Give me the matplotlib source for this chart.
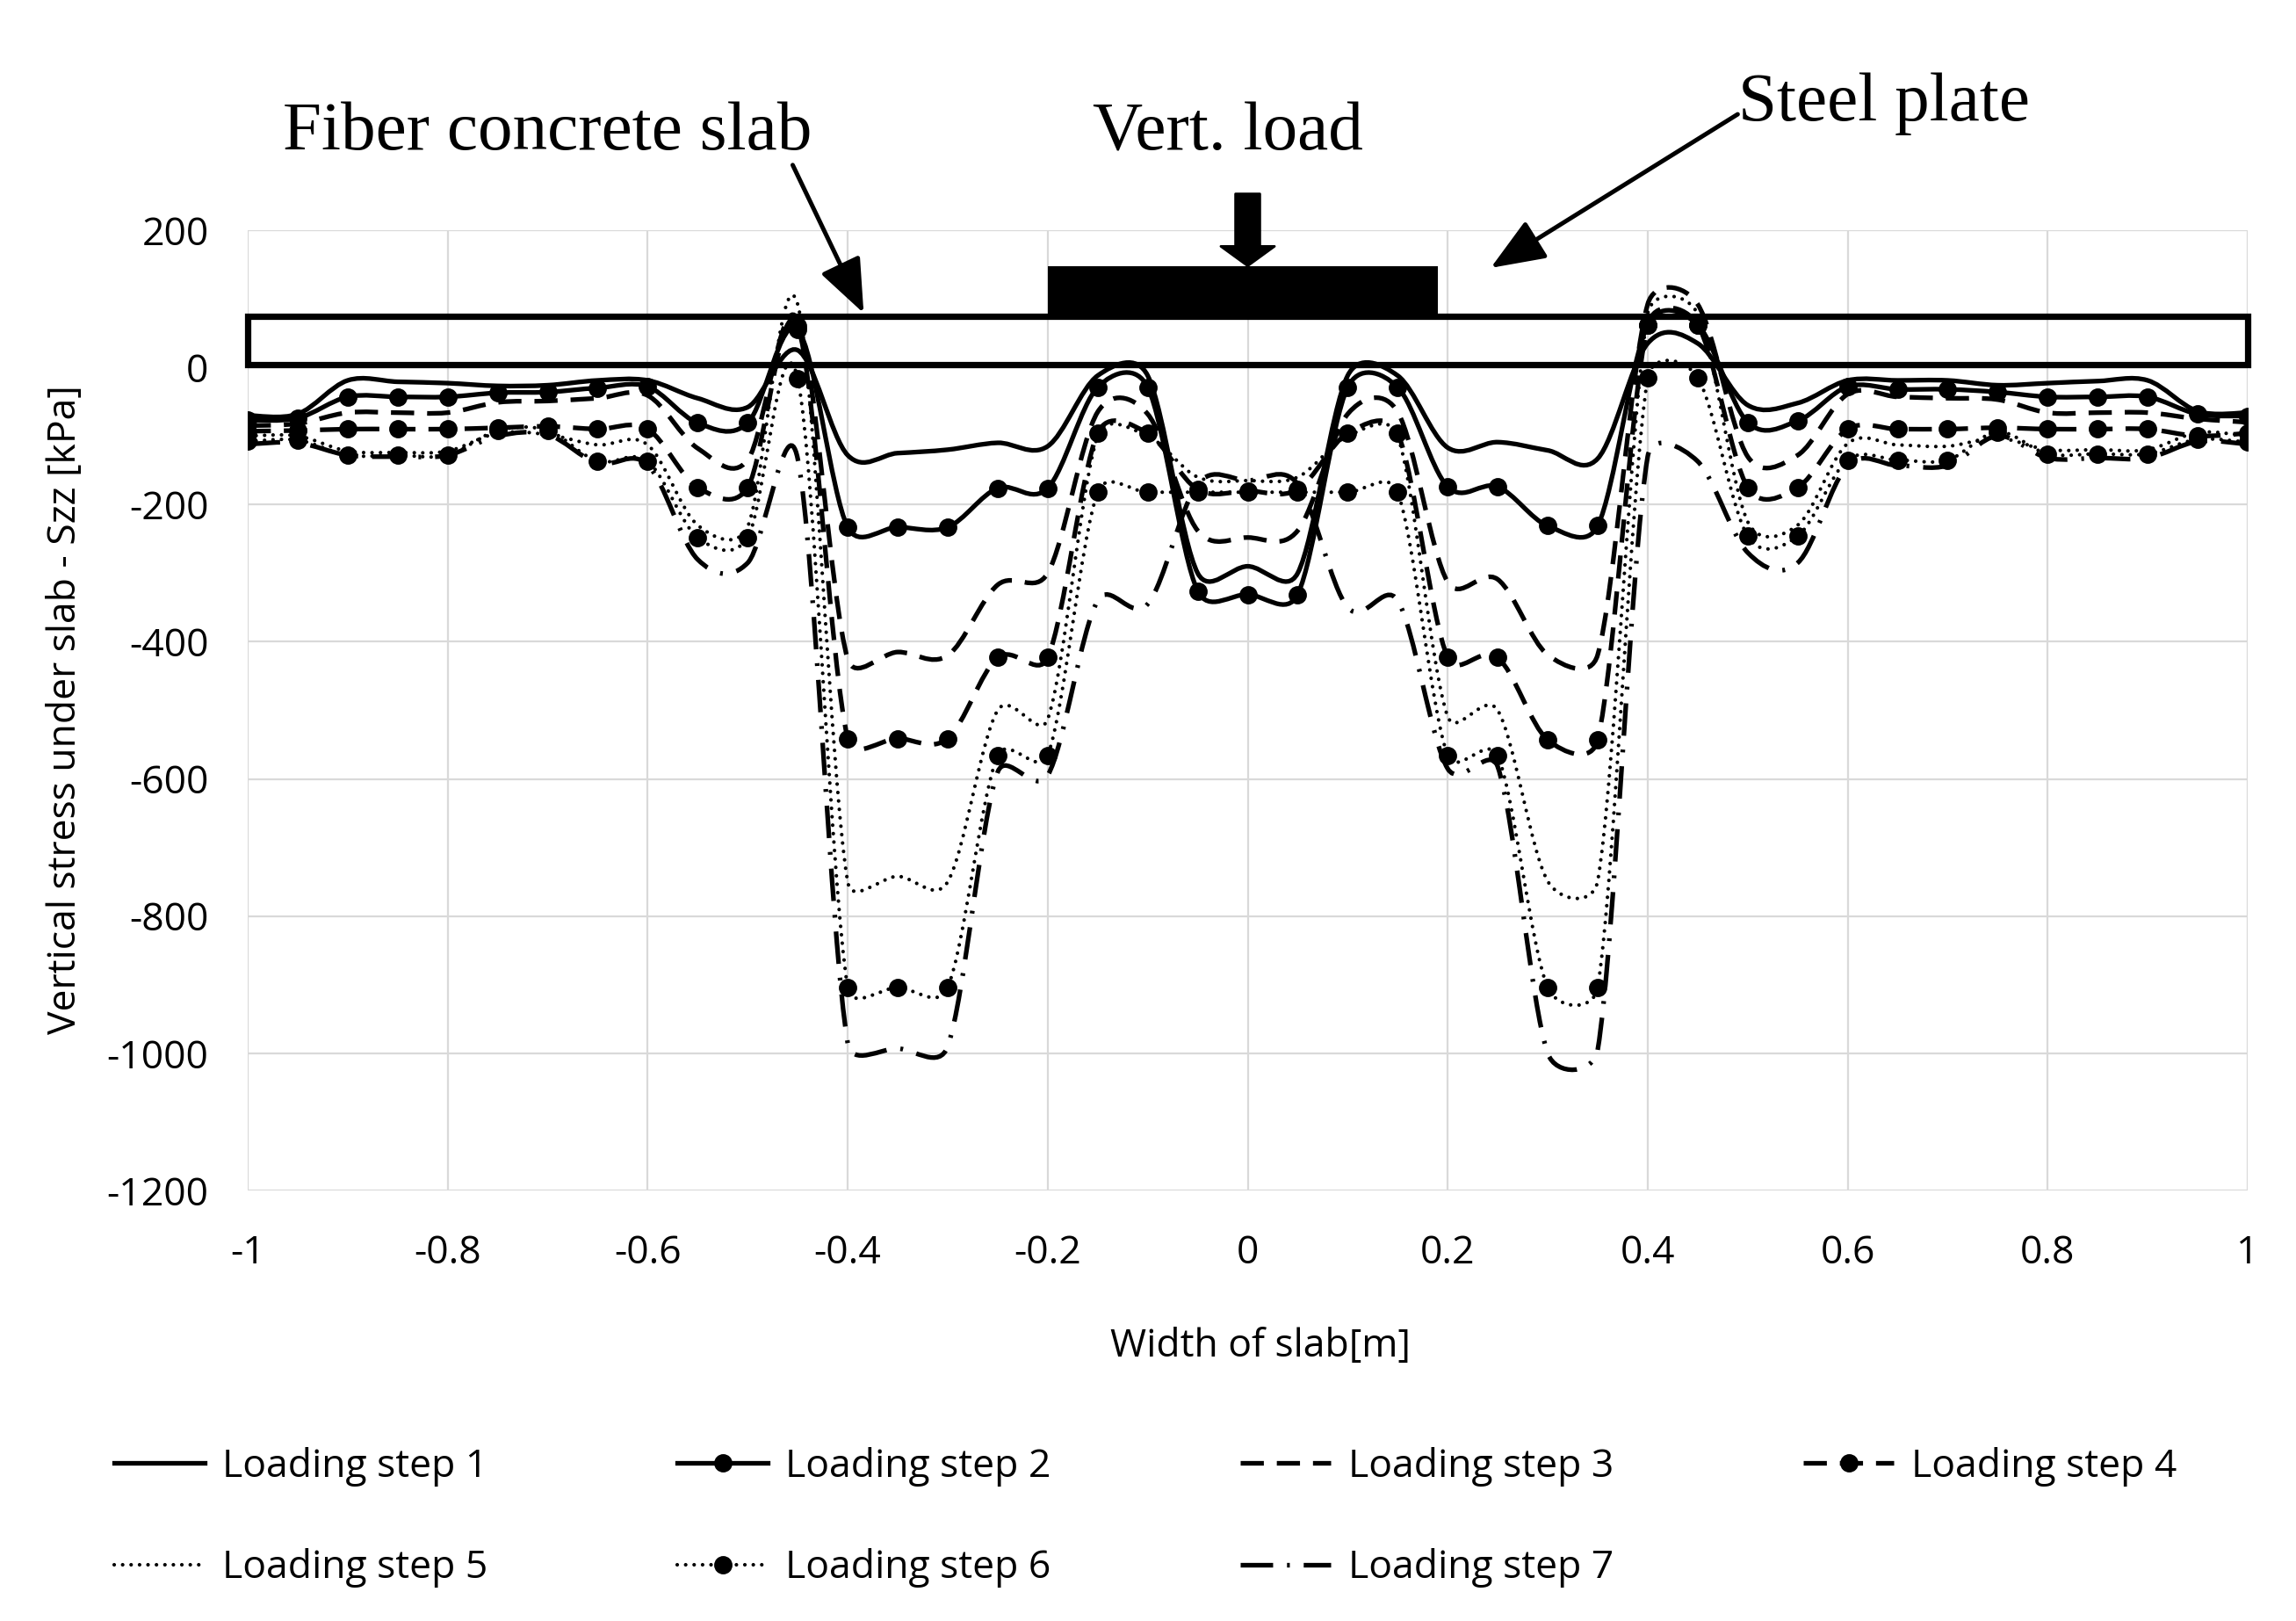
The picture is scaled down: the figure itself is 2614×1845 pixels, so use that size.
import numpy as np
import matplotlib
matplotlib.use("Agg")
import matplotlib.pyplot as plt
from matplotlib.path import Path
from matplotlib.patches import PathPatch, Rectangle
from matplotlib.lines import Line2D

plt.rcParams["axes.unicode_minus"] = False

# ---------------- data ----------------
width_m = [-1.0, -0.95, -0.9, -0.85, -0.8, -0.75, -0.7, -0.65, -0.6, -0.55, -0.5,
           -0.45, -0.4, -0.35, -0.3, -0.25, -0.2, -0.15, -0.1, -0.05, 0.0,
           0.05, 0.1, 0.15, 0.2, 0.25, 0.3, 0.35, 0.4, 0.45, 0.5,
           0.55, 0.6, 0.65, 0.7, 0.75, 0.8, 0.85, 0.9, 0.95, 1.0]

step1 = [-70, -68, -19, -21, -23, -27, -26, -19, -19, -45, -58,
         25, -128, -125, -120, -110, -115, -12, -12, -300, -290,
         -300, -12, -12, -117, -109, -121, -133, 35, 35, -55,
         -52, -19, -19, -19, -26, -23, -20, -19, -64, -66]
step2 = [-77, -74, -43, -43, -43, -37, -36, -30, -28, -81, -81,
         55, -233, -233, -233, -176, -176, -29, -29, -326, -331,
         -331, -29, -29, -174, -174, -231, -231, 62, 62, -80,
         -78, -28, -32, -32, -36, -43, -43, -43, -68, -71]
step3 = [-85, -82, -66, -66, -66, -51, -49, -45, -41, -118, -135,
         70, -425, -415, -420, -317, -300, -65, -68, -238, -248,
         -238, -68, -65, -313, -309, -419, -419, 92, 92, -130,
         -128, -39, -43, -45, -47, -66, -66, -66, -75, -80]
step4 = [-93, -92, -90, -90, -90, -88, -86, -90, -90, -175, -175,
         60, -541, -541, -541, -423, -423, -96, -96, -178, -180,
         -178, -96, -96, -423, -423, -543, -543, 62, 62, -175,
         -175, -90, -90, -90, -88, -90, -90, -90, -100, -96]
step5 = [-100, -100, -122, -124, -122, -96, -98, -113, -113, -230, -232,
         92, -750, -742, -750, -500, -513, -100, -100, -160, -165,
         -160, -100, -100, -509, -500, -749, -749, 78, 78, -225,
         -230, -111, -113, -115, -103, -120, -120, -120, -95, -100]
step6 = [-108, -106, -128, -128, -128, -92, -92, -137, -137, -248, -248,
         -17, -904, -904, -904, -566, -566, -182, -182, -182, -182,
         -182, -182, -182, -566, -566, -904, -904, -15, -15, -246,
         -246, -135, -135, -135, -94, -126, -126, -126, -105, -109]
step7 = [-112, -110, -128, -130, -128, -100, -98, -140, -142, -280, -285,
         -133, -985, -993, -990, -590, -595, -340, -345, -170, -165,
         -170, -350, -340, -585, -582, -1000, -995, -130, -137, -270,
         -285, -143, -143, -143, -100, -132, -132, -132, -108, -112]

series_labels = ["Loading step 1", "Loading step 2", "Loading step 3", "Loading step 4",
                 "Loading step 5", "Loading step 6", "Loading step 7"]
x_ticks = [-1, -0.8, -0.6, -0.4, -0.2, 0, 0.2, 0.4, 0.6, 0.8, 1]
x_tick_labels = ["-1", "-0.8", "-0.6", "-0.4", "-0.2", "0", "0.2", "0.4", "0.6", "0.8", "1"]
y_ticks = [200, 0, -200, -400, -600, -800, -1000, -1200]

# ---------------- figure ----------------
DPI = 200
fig = plt.figure(figsize=(2614 / DPI, 1845 / DPI), dpi=DPI)
ax = fig.add_axes([282 / 2614, 1 - 1355 / 1845, (2559 - 282) / 2614, (1355 - 262) / 1845])
ax.set_xlim(-1, 1)
ax.set_ylim(-1200, 200)

TICKFONT = "Open Sans"
SERIF = "Liberation Serif"
FS = 16

# pixel-equivalent scale for smoothing (Excel-like smoothed line)
SX = 1138.5
SY = 0.781


def smooth_path(xs, ys):
    P = np.column_stack([np.asarray(xs, float) * SX, np.asarray(ys, float) * SY])
    n = len(P)
    verts = [P[0]]
    codes = [Path.MOVETO]
    for i in range(n - 1):
        p0 = P[i - 1] if i > 0 else P[i]
        p1 = P[i]
        p2 = P[i + 1]
        p3 = P[i + 2] if i + 2 < n else P[i + 1]
        d12 = np.hypot(*(p2 - p1))
        o1 = (p2 - p0) / 6.0
        o2 = (p3 - p1) / 6.0
        for o in (o1, o2):
            m = np.hypot(*o)
            if m > d12 / 2 and m > 0:
                o *= (d12 / 2) / m
        verts += [p1 + o1, p2 - o2, p2]
        codes += [Path.CURVE4] * 3
    verts = np.array(verts) / np.array([SX, SY])
    return Path(verts, codes)


LW = 1.9
DOT_LW = 1.5
styles = [
    dict(ls="-", lw=LW, marker=None),
    dict(ls="-", lw=LW, marker="o"),
    dict(ls=(0, (5, 2.8)), lw=LW, marker=None),
    dict(ls=(0, (5, 2.8)), lw=LW, marker="o"),
    dict(ls=(0, (0.01, 2.3)), lw=DOT_LW, marker=None),
    dict(ls=(0, (0.01, 2.3)), lw=DOT_LW, marker="o"),
    dict(ls=(0, (7, 3, 0.6, 3)), lw=LW, marker=None),
]
all_series = [step1, step2, step3, step4, step5, step6, step7]

handles = []
for vals, st, lab in zip(all_series, styles, series_labels):
    path = smooth_path(width_m, vals)
    patch = PathPatch(path, fill=False, edgecolor="black", lw=st["lw"], linestyle=st["ls"],
                      zorder=3)
    if st["lw"] == DOT_LW:
        patch.set_capstyle("round")
    ax.add_patch(patch)
    if st["marker"]:
        ax.plot(width_m, vals, linestyle="none", marker="o", markersize=6.5,
                color="black", zorder=4)
    h = Line2D([], [], color="black", lw=st["lw"], linestyle=st["ls"],
               marker=st["marker"], markersize=6.5,
               dash_capstyle="round" if st["lw"] == DOT_LW else "butt")
    handles.append(h)

# grid and axes styling
ax.set_xticks(x_ticks)
ax.set_xticklabels(x_tick_labels)
ax.set_yticks(y_ticks)
ax.grid(True, color="#d9d9d9", lw=0.8, zorder=0)
ax.set_axisbelow(True)
for s in ax.spines.values():
    s.set_visible(False)
ax.tick_params(axis="both", length=0, labelsize=FS, colors="black")
ax.tick_params(axis="x", pad=18)
ax.tick_params(axis="y", pad=16)
for lbl in ax.get_xticklabels() + ax.get_yticklabels():
    lbl.set_fontfamily(TICKFONT)

fig.text(1435 / 2614, 1 - 1533 / 1845, "Width of slab[m]", ha="center", va="center",
         fontsize=FS, family=TICKFONT)
fig.text(75 / 2614, 1 - 808 / 1845, "Vertical stress under slab - Szz [kPa]", ha="center",
         va="center", rotation=90, fontsize=FS, family=TICKFONT)

# schematic: slab, steel plate, arrows
ax.add_patch(Rectangle((-1, 4), 2, 70, fill=False, edgecolor="black", lw=2.6,
                       clip_on=False, zorder=5))
ax.add_patch(Rectangle((-0.2, 74), 0.39, 74, facecolor="black", edgecolor="black",
                       lw=0, clip_on=False, zorder=5))
ax.annotate("", xy=(0.0, 148), xytext=(0.0, 253),
            arrowprops=dict(arrowstyle="simple,head_length=0.8,head_width=2.2,tail_width=1.0",
                            mutation_scale=10, facecolor="black", edgecolor="black",
                            shrinkA=0, shrinkB=0),
            annotation_clip=False, zorder=6)
ax.annotate("", xy=(-0.384, 79), xytext=(-0.455, 295),
            arrowprops=dict(arrowstyle="-|>,head_length=0.95,head_width=0.38",
                            mutation_scale=20, lw=1.8, color="black",
                            shrinkA=0, shrinkB=0),
            annotation_clip=False, zorder=6)
ax.annotate("", xy=(0.243, 145), xytext=(0.49, 369),
            arrowprops=dict(arrowstyle="-|>,head_length=0.95,head_width=0.38",
                            mutation_scale=20, lw=1.8, color="black",
                            shrinkA=0, shrinkB=0),
            annotation_clip=False, zorder=6)

SFS = 28.5
fig.text(322 / 2614, 1 - 170 / 1845, "Fiber concrete slab", ha="left", va="baseline",
         fontsize=SFS, family=SERIF)
fig.text(1398 / 2614, 1 - 170 / 1845, "Vert. load", ha="center", va="baseline",
         fontsize=SFS, family=SERIF)
fig.text(1979 / 2614, 1 - 137 / 1845, "Steel plate", ha="left", va="baseline",
         fontsize=SFS, family=SERIF)

# legend (row-major ordering for 4 columns)
order = [0, 4, 1, 5, 2, 6, 3]
fig.legend([handles[i] for i in order], [series_labels[i] for i in order],
           ncol=4, loc="upper left", bbox_to_anchor=(130 / 2614, 1 - 1647 / 1845),
           frameon=False, borderpad=0, borderaxespad=0,
           handlelength=2.32, handletextpad=0.45, columnspacing=4.85,
           labelspacing=1.58, prop=dict(family=TICKFONT, size=FS))

fig.savefig("out.png", dpi=DPI)
